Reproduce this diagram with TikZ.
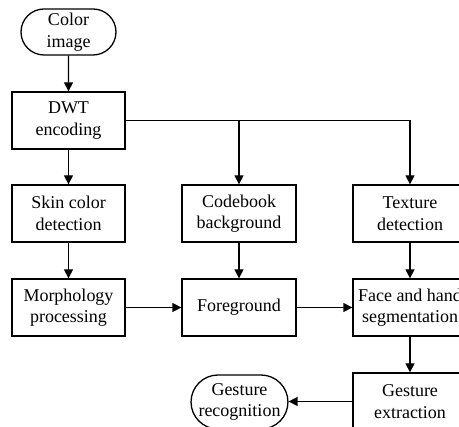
\documentclass[tikz,border=0pt]{standalone}
\usepackage{fontspec}
\setmainfont{Liberation Serif}
\usetikzlibrary{arrows.meta,shapes.misc}
\begin{document}
\begin{tikzpicture}[x=1pt,y=-1pt,
  every node/.style={font=\fontsize{18}{21.5}\selectfont, align=center, inner sep=0pt},
  box/.style={draw, line width=1.3pt, minimum width=113pt, minimum height=57pt},
  term/.style={draw, line width=1.3pt, rounded rectangle, minimum width=95pt, minimum height=46pt},
  arr/.style={line width=1.3pt, -{Triangle[length=9pt,width=9pt]}},
  ln/.style={line width=1.3pt}]
\clip (0,0) rectangle (459,427);
\node[term] (col) at (68.5,32) {Color\\image};
\node[box] (dwt) at (68.5,120.5) {DWT\\encoding};
\node[box] (skin) at (68.5,213.5) {Skin color\\detection};
\node[box, minimum width=114pt] (cb) at (239,213.5) {Codebook\\background};
\node[box, minimum width=114pt] (tex) at (410,213.5) {Texture\\detection};
\node[box] (mor) at (68.5,307.5) {Morphology\\processing};
\node[box, minimum width=114pt] (fg) at (239,307.5) {Foreground};
\node[box, minimum width=114pt] (fh) at (410,307.5) {Face and hand\\segmentation};
\node[box, minimum width=114pt] (ge) at (410,401.5) {Gesture\\extraction};
\node[term, minimum width=96pt, minimum height=54pt] (gr) at (239.5,402) {Gesture\\recognition};
\draw[arr] (col) -- (dwt);
\draw[arr] (dwt) -- (skin);
\draw[arr] (dwt.east) -| (tex.north);
\draw[arr] (dwt.east -| cb.north) -- (cb.north);
\draw[arr] (skin) -- (mor);
\draw[arr] (cb) -- (fg);
\draw[arr] (tex) -- (fh);
\draw[arr] (mor) -- (fg);
\draw[arr] (fg) -- (fh);
\draw[arr] (fh) -- (ge);
\draw[arr] (ge.west) -- (gr.east |- ge.west);
\end{tikzpicture}
\end{document}
